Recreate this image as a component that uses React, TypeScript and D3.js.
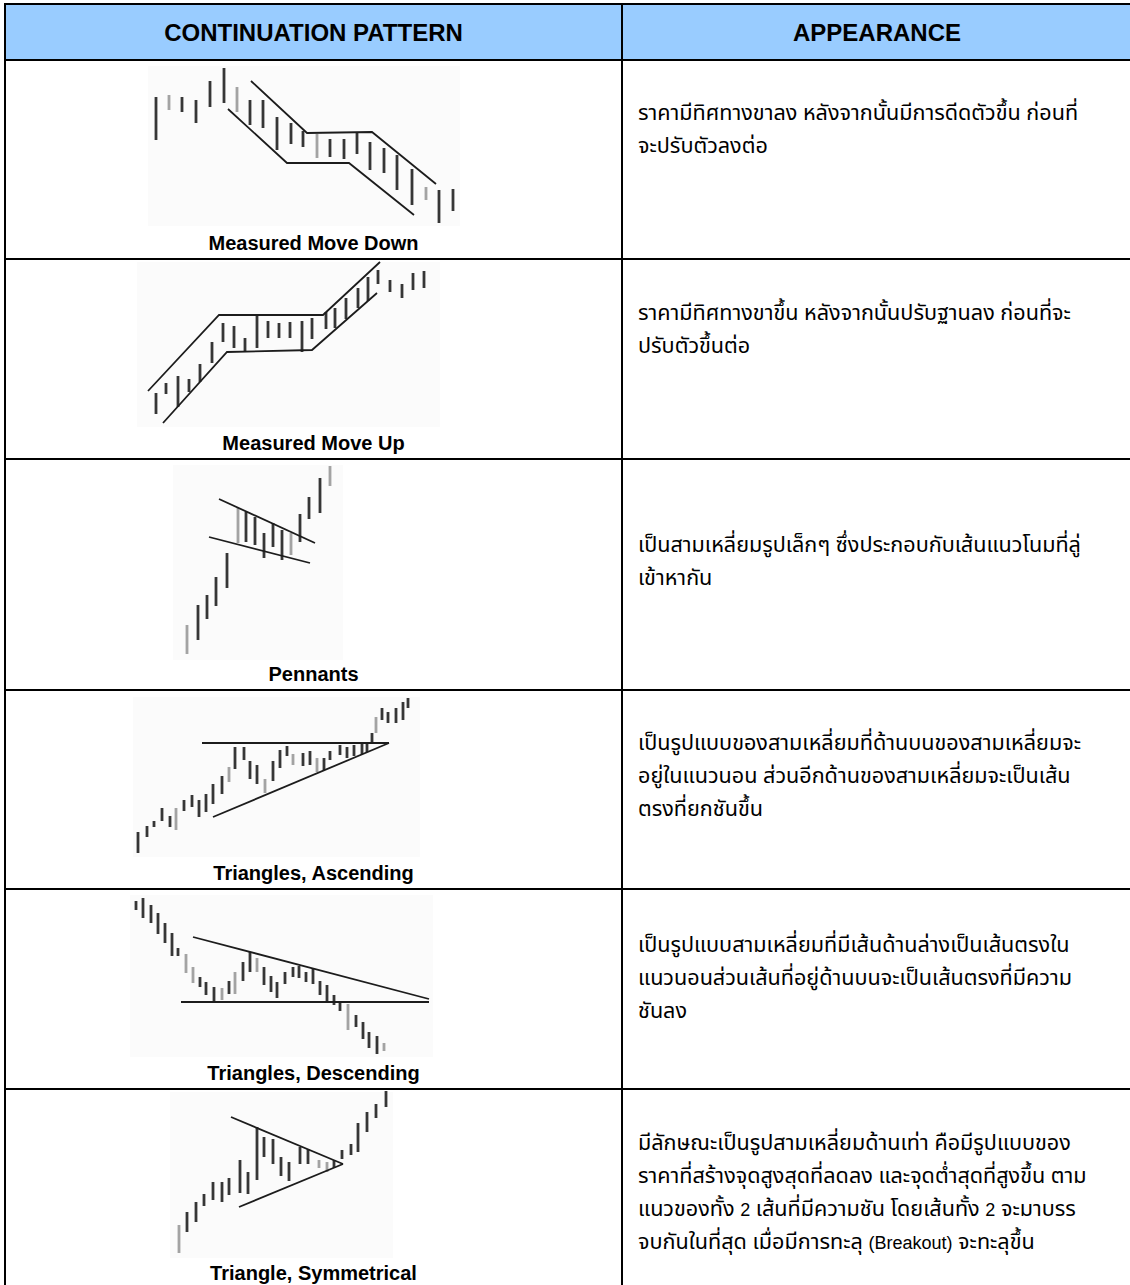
import React from "react";
import * as d3 from "d3";

// table texts
const headers = ["CONTINUATION PATTERN", "APPEARANCE"];

const patternNames = [
  "Measured Move Down",
  "Measured Move Up",
  "Pennants",
  "Triangles, Ascending",
  "Triangles, Descending",
  "Triangle, Symmetrical",
];

const descriptions: string[][] = [
  ["ราคามีทิศทางขาลง หลังจากนั้นมีการดีดตัวขึ้น ก่อนที่", "จะปรับตัวลงต่อ"],
  ["ราคามีทิศทางขาขึ้น หลังจากนั้นปรับฐานลง ก่อนที่จะ", "ปรับตัวขึ้นต่อ"],
  ["เป็นสามเหลี่ยมรูปเล็กๆ ซึ่งประกอบกับเส้นแนวโนมที่ลู่", "เข้าหากัน"],
  [
    "เป็นรูปแบบของสามเหลี่ยมที่ด้านบนของสามเหลี่ยมจะ",
    "อยู่ในแนวนอน ส่วนอีกด้านของสามเหลี่ยมจะเป็นเส้น",
    "ตรงที่ยกชันขึ้น",
  ],
  [
    "เป็นรูปแบบสามเหลี่ยมที่มีเส้นด้านล่างเป็นเส้นตรงใน",
    "แนวนอนส่วนเส้นที่อยู่ด้านบนจะเป็นเส้นตรงที่มีความ",
    "ชันลง",
  ],
  [
    "มีลักษณะเป็นรูปสามเหลี่ยมด้านเท่า คือมีรูปแบบของ",
    "ราคาที่สร้างจุดสูงสุดที่ลดลง และจุดต่ำสุดที่สูงขึ้น ตาม",
    "แนวของทั้ง 2 เส้นที่มีความชัน โดยเส้นทั้ง 2 จะมาบรร",
    "จบกันในที่สุด เมื่อมีการทะลุ (Breakout) จะทะลุขึ้น",
  ],
];

type Bar = [number, number, number]; // time, high, low
type Pt = [number, number]; // time, price

// Measured Move Down
const moveDownBars: Bar[] = [
  [8, 129, 86], [21, 131, 116], [34, 129, 114], [48, 126, 103], [62, 145, 119],
  [76, 158, 123], [89, 139, 114], [102, 126, 101], [115, 126, 98], [129, 109, 76],
  [143, 103, 82], [155, 95, 79], [169, 92, 68], [182, 87, 69], [196, 87, 67],
  [209, 93, 72], [222, 84, 56], [236, 78, 53], [249, 71, 36], [264, 57, 21],
  [278, 39, 26], [291, 36, 3], [305, 37, 15],
];
const moveDownGray = [1, 6, 12, 20];
const moveDownLines: Pt[][] = [
  [[103, 145], [159, 93], [224, 94], [288, 42]],
  [[80, 117], [139, 63], [201, 63], [266, 11]],
];

// Measured Move Up
const moveUpBars: Bar[] = [
  [19, 34, 13], [29, 44, 33], [41, 51, 20], [52, 48, 35], [63, 63, 45],
  [75, 85, 64], [86, 104, 85], [97, 101, 79], [108, 89, 75], [120, 111, 79],
  [131, 106, 89], [142, 104, 89], [153, 105, 89], [165, 106, 75], [175, 109, 88],
  [189, 115, 98], [198, 119, 99], [209, 129, 108], [221, 139, 119], [231, 150, 126],
  [241, 157, 143], [253, 147, 135], [265, 143, 129], [276, 154, 137], [287, 156, 139],
];
const moveUpGray: number[] = [];
const moveUpLines: Pt[][] = [
  [[11, 36], [82, 112], [186, 112], [243, 165]],
  [[26, 4], [90, 75], [175, 77], [240, 134]],
];

// Pennants
const pennantBars: Bar[] = [
  [14, 35, 6], [25, 55, 20], [34, 65, 41], [43, 83, 54], [54, 107, 72],
  [65, 152, 117], [73, 148, 118], [82, 143, 115], [91, 127, 102], [100, 137, 113],
  [109, 130, 100], [118, 127, 105], [127, 146, 118], [136, 163, 141], [147, 182, 147],
  [157, 194, 174],
];
const pennantGray = [0, 5, 11, 15];
const pennantLines: Pt[][] = [
  [[46, 161], [142, 117]],
  [[36, 123], [137, 97]],
];

// Triangles, Ascending
const ascBars: Bar[] = [
  [5, 25, 4], [14, 31, 20], [21, 36, 30], [29, 49, 36], [37, 41, 30],
  [43, 49, 27], [51, 57, 46], [59, 62, 50], [66, 57, 40], [73, 63, 45],
  [80, 73, 53], [89, 81, 63], [96, 90, 75], [102, 110, 88], [111, 110, 97],
  [117, 96, 78], [124, 92, 73], [132, 78, 64], [140, 96, 76], [147, 107, 89],
  [154, 111, 101], [160, 103, 92], [170, 104, 91], [177, 106, 92], [184, 99, 85],
  [191, 99, 87], [197, 106, 97], [207, 112, 102], [214, 110, 99], [221, 112, 101],
  [229, 114, 103], [234, 114, 105], [239, 124, 114], [243, 140, 124], [249, 149, 137],
  [255, 145, 134], [263, 149, 134], [270, 155, 137], [275, 159, 149],
];
const ascGray = [5, 12, 17, 21, 24, 33];
const ascLines: Pt[][] = [
  [[69, 114], [256, 114]],
  [[80, 40], [256, 114]],
];

// Triangles, Descending
const descBars: Bar[] = [
  [6, 156, 147], [13, 159, 139], [21, 152, 134], [28, 144, 123], [35, 134, 114],
  [42, 124, 101], [48, 109, 101], [56, 103, 84], [63, 90, 74], [70, 80, 70],
  [76, 75, 62], [84, 70, 56], [92, 69, 57], [99, 76, 63], [105, 85, 63],
  [113, 95, 76], [120, 105, 85], [127, 99, 85], [134, 90, 72], [141, 81, 65],
  [147, 75, 59], [155, 85, 73], [163, 90, 80], [169, 91, 79], [176, 85, 75],
  [183, 89, 73], [190, 76, 62], [197, 72, 54], [204, 62, 52], [210, 54, 46],
  [218, 53, 27], [226, 42, 30], [233, 35, 18], [239, 25, 9], [247, 21, 3],
  [254, 14, 6],
];
const descGray = [7, 8, 12, 14, 17, 30, 35];
const descLines: Pt[][] = [
  [[51, 55], [299, 55]],
  [[63, 120], [299, 58]],
];

// Triangle, Symmetrical
const symBars: Bar[] = [
  [9, 33, 5], [17, 46, 26], [26, 56, 36], [34, 64, 52], [43, 76, 58],
  [52, 76, 56], [59, 80, 63], [70, 98, 65], [78, 86, 64], [87, 131, 78],
  [94, 121, 101], [103, 119, 94], [111, 101, 82], [119, 96, 77], [130, 111, 94],
  [138, 109, 94], [149, 98, 90], [157, 96, 86], [164, 98, 90], [172, 108, 99],
  [181, 114, 103], [188, 135, 106], [197, 146, 126], [206, 154, 140], [216, 167, 151],
];
const symGray = [0, 16, 17];
const symLines: Pt[][] = [
  [[61, 141], [173, 94]],
  [[69, 51], [173, 94]],
];

// layout
const W = 1130;
const H = 1285;
const colX = [5, 622, 1132];
const rowY = [4, 60, 259, 459, 690, 889, 1089, 1289];
const frames = [
  { left: 148, top: 66, w: 312, h: 160 },
  { left: 137, top: 262, w: 303, h: 165 },
  { left: 173, top: 465, w: 170, h: 195 },
  { left: 133, top: 697, w: 287, h: 160 },
  { left: 130, top: 895, w: 303, h: 162 },
  { left: 170, top: 1092, w: 223, h: 166 },
];
const descFirstBaseline = [60, 61, 93, 60, 63, 61];
const lineGap = 33;

const sketchBars = [moveDownBars, moveUpBars, pennantBars, ascBars, descBars, symBars];
const sketchGray = [moveDownGray, moveUpGray, pennantGray, ascGray, descGray, symGray];
const sketchLines = [moveDownLines, moveUpLines, pennantLines, ascLines, descLines, symLines];

const latin = "'Liberation Sans', Arial, Helvetica, sans-serif";
const thai = "Tahoma, 'Noto Sans Thai', Loma, Garuda, 'DejaVu Sans', sans-serif";

// split a line into thai and latin runs so latin can use Arial sizing
const runs = (s: string) => s.split(/([A-Za-z0-9()]+(?:\s+[A-Za-z0-9()]+)*)/).filter(r => r.length > 0);
const isLatin = (r: string) => /[A-Za-z0-9]/.test(r);

const Sketch = ({ idx }: { idx: number }) => {
  const f = frames[idx];
  const x = d3.scaleLinear().domain([0, f.w]).range([f.left, f.left + f.w]);
  const y = d3.scaleLinear().domain([0, f.h]).range([f.top + f.h, f.top]);
  const line = d3.line<Pt>().x(d => x(d[0])).y(d => y(d[1]));
  const gray = sketchGray[idx];
  return (
    <g>
      <rect x={f.left} y={f.top} width={f.w} height={f.h} fill="#fbfbfb" />
      {sketchBars[idx].map((b, i) => (
        <line
          key={i}
          x1={x(b[0])}
          x2={x(b[0])}
          y1={y(b[1])}
          y2={y(b[2])}
          stroke={gray.includes(i) ? "#a3a3a3" : "#363636"}
          strokeWidth={2.8}
        />
      ))}
      {sketchLines[idx].map((l, i) => (
        <path key={i} d={line(l) ?? ""} fill="none" stroke="#1c1c1c" strokeWidth={1.8} />
      ))}
    </g>
  );
};

export default function App() {
  const cellMid = (colX[0] + colX[1]) / 2;
  return (
    <svg
      width={W}
      height={H}
      style={{ position: "absolute", left: 0, top: 0, background: "#fff" }}
    >
      <rect x={0} y={0} width={W} height={H} fill="#fff" />
      {/* header */}
      <rect x={colX[0]} y={rowY[0]} width={colX[2] - colX[0]} height={rowY[1] - rowY[0]} fill="#99ccff" />
      {headers.map((h, i) => (
        <text
          key={h}
          x={(colX[i] + colX[i + 1]) / 2}
          y={rowY[0] + 37}
          textAnchor="middle"
          fontFamily={latin}
          fontWeight="bold"
          fontSize={24}
          fill="#000"
        >
          {h}
        </text>
      ))}

      {/* sketches + labels */}
      {patternNames.map((name, i) => (
        <g key={name}>
          <Sketch idx={i} />
          <text
            x={cellMid}
            y={rowY[i + 2] - 9}
            textAnchor="middle"
            fontFamily={latin}
            fontWeight="bold"
            fontSize={20}
            fill="#000"
          >
            {name}
          </text>
        </g>
      ))}

      {/* descriptions */}
      {descriptions.map((lines, i) => (
        <g key={i}>
          {lines.map((s, j) => (
            <text key={j} x={638} y={rowY[i + 1] + descFirstBaseline[i] + j * lineGap} fill="#000">
              {runs(s).map((r, k) => (
                <tspan
                  key={k}
                  fontFamily={isLatin(r) ? latin : thai}
                  fontSize={isLatin(r) ? 18 : 21.6}
                >
                  {r}
                </tspan>
              ))}
            </text>
          ))}
        </g>
      ))}

      {/* grid */}
      {rowY.map((yy, i) => (
        <line key={"h" + i} x1={colX[0] - 1} x2={colX[2]} y1={yy} y2={yy} stroke="#000" strokeWidth={2} />
      ))}
      {colX.map((xx, i) => (
        <line key={"v" + i} x1={xx} x2={xx} y1={rowY[0]} y2={rowY[rowY.length - 1]} stroke="#000" strokeWidth={2} />
      ))}
    </svg>
  );
}
